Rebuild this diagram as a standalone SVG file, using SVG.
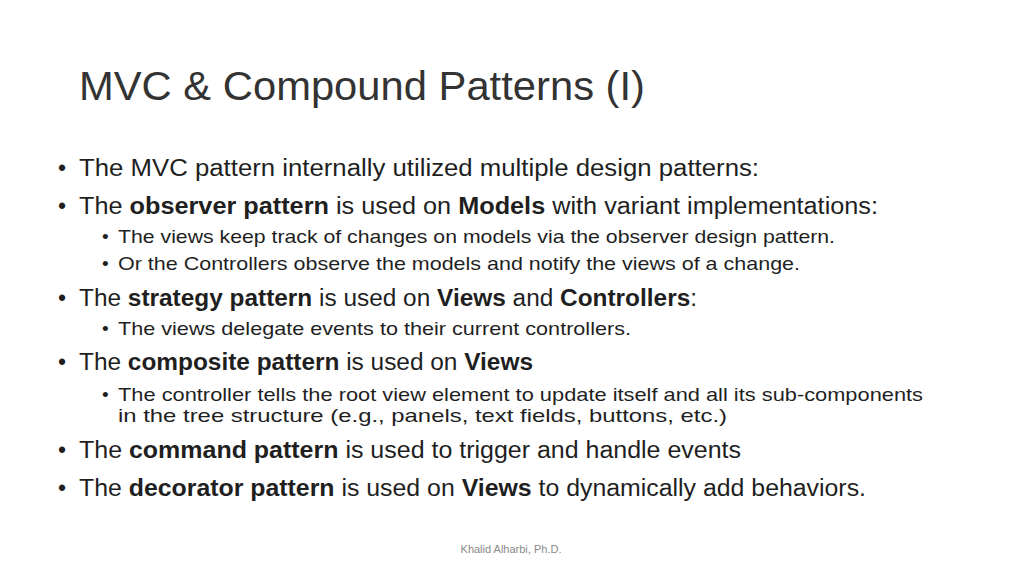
<svg xmlns="http://www.w3.org/2000/svg" width="1024" height="576" viewBox="0 0 1024 576">
<style>
text{font-family:"Liberation Sans",Arial,sans-serif;fill:#1f1f1f}
.t{font-size:41px;fill:#333}
.l1{font-size:23px}
.l2{font-size:19px}
.b{font-weight:bold}
.f{font-size:11px;fill:#888}
</style>
<rect width="1024" height="576" fill="#fff"/>
<g id="title"><text class="t" x="79" y="100" textLength="566" lengthAdjust="spacingAndGlyphs">MVC &amp; Compound Patterns (I)</text></g>
<g id="body">
<text class="l1" x="58" y="176">•</text>
<text class="l1" x="79" y="176" textLength="680" lengthAdjust="spacingAndGlyphs">The MVC pattern internally utilized multiple design patterns:</text>
<text class="l1" x="58" y="214">•</text>
<text class="l1" x="79" y="214" textLength="799" lengthAdjust="spacingAndGlyphs">The <tspan class="b">observer pattern</tspan> is used on <tspan class="b">Models</tspan> with variant implementations:</text>
<text class="l2" x="102" y="243">•</text>
<text class="l2" x="118" y="243" textLength="717" lengthAdjust="spacingAndGlyphs">The views keep track of changes on models via the observer design pattern.</text>
<text class="l2" x="102" y="270">•</text>
<text class="l2" x="118" y="270" textLength="682" lengthAdjust="spacingAndGlyphs">Or the Controllers observe the models and notify the views of a change.</text>
<text class="l1" x="58" y="306">•</text>
<text class="l1" x="79" y="306" textLength="618" lengthAdjust="spacingAndGlyphs">The <tspan class="b">strategy pattern</tspan> is used on <tspan class="b">Views</tspan> and <tspan class="b">Controllers</tspan>:</text>
<text class="l2" x="102" y="335">•</text>
<text class="l2" x="118" y="335" textLength="513" lengthAdjust="spacingAndGlyphs">The views delegate events to their current controllers.</text>
<text class="l1" x="58" y="370">•</text>
<text class="l1" x="79" y="370" textLength="454" lengthAdjust="spacingAndGlyphs">The <tspan class="b">composite pattern</tspan> is used on <tspan class="b">Views</tspan></text>
<text class="l2" x="102" y="401">•</text>
<text class="l2" x="118" y="401" textLength="805" lengthAdjust="spacingAndGlyphs">The controller tells the root view element to update itself and all its sub-components</text>
<text class="l2" x="118" y="422" textLength="609" lengthAdjust="spacingAndGlyphs">in the tree structure (e.g., panels, text fields, buttons, etc.)</text>
<text class="l1" x="58" y="458">•</text>
<text class="l1" x="79" y="458" textLength="662" lengthAdjust="spacingAndGlyphs">The <tspan class="b">command pattern</tspan> is used to trigger and handle events</text>
<text class="l1" x="58" y="496">•</text>
<text class="l1" x="79" y="496" textLength="787" lengthAdjust="spacingAndGlyphs">The <tspan class="b">decorator pattern</tspan> is used on <tspan class="b">Views</tspan> to dynamically add behaviors.</text>
</g>
<g id="footer"><text class="f" x="511" y="553" text-anchor="middle">Khalid Alharbi, Ph.D.</text></g>
</svg>
